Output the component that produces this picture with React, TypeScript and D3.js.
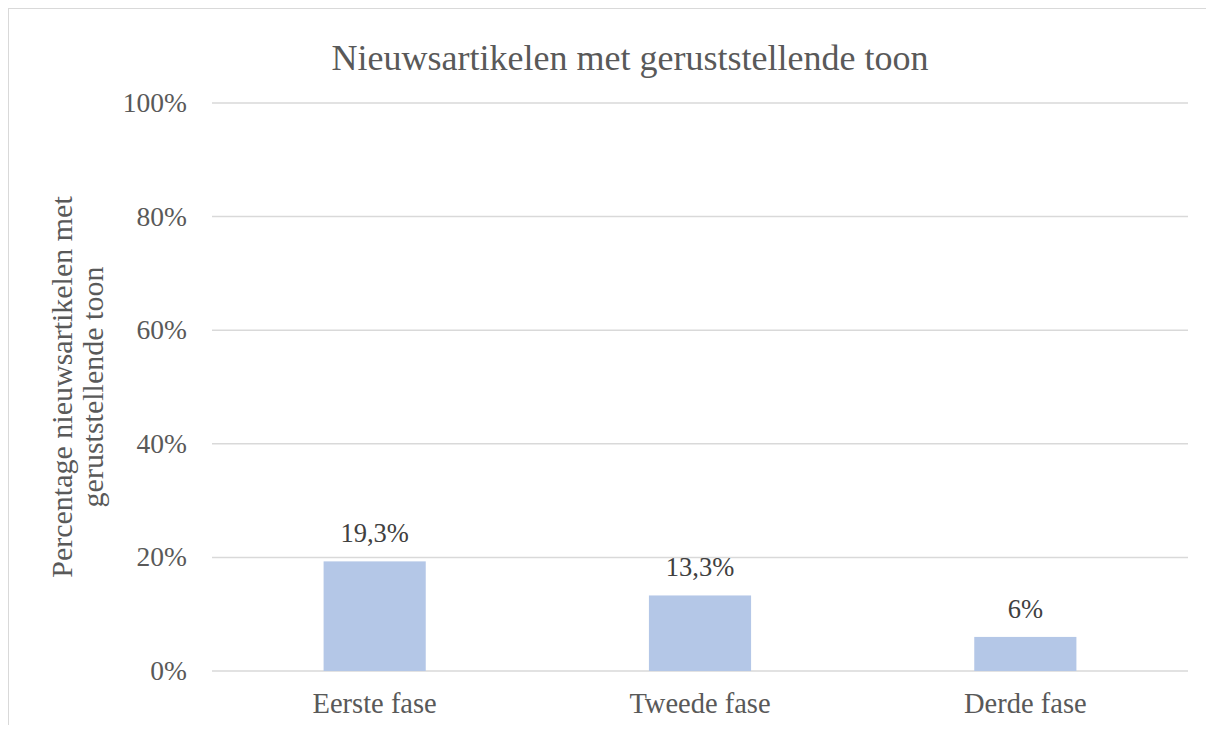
import React from "react";
import * as d3 from "d3";

const categories = ["Eerste fase", "Tweede fase", "Derde fase"];
const values = [19.3, 13.3, 6];
const valueLabels = ["19,3%", "13,3%", "6%"];
const yTicks = [0, 20, 40, 60, 80, 100];

const title = "Nieuwsartikelen met geruststellende toon";
const yTitle = ["Percentage nieuwsartikelen met", "geruststellende toon"];

const W = 1206;
const H = 717;
const font = "Liberation Serif, serif";
const textColor = "#595959";

const App = () => {
	const left = 204, right = 1180, top = 95, bottom = 663;

	const x = d3.scaleBand<string>().domain(categories).range([left, right]).padding(0);
	const y = d3.scaleLinear().domain([0, 100]).range([bottom, top]);
	const barW = x.bandwidth() * 0.314;

	return (
		<svg width={W} height={H} style={{ display: "block", fontFamily: font }}>
			<rect x={0.5} y={0.5} width={1260} height={760} fill="#fff" stroke="#d9d9d9" />
			<text x={622} y={62} textAnchor="middle" fontSize={36} fill={textColor}>
				{title}
			</text>
			{yTicks.map(t => (
				<g key={t}>
					<line x1={left} x2={right} y1={y(t)} y2={y(t)} stroke="#d9d9d9" strokeWidth={1.5} />
					<text x={179} y={y(t) + 9} textAnchor="end" fontSize={27.5} fill={textColor}>
						{t}%
					</text>
				</g>
			))}
			{categories.map((c, i) => {
				const cx = (x(c) as number) + x.bandwidth() / 2;
				return (
					<g key={c}>
						<rect x={cx - barW / 2} y={y(values[i])} width={barW} height={y(0) - y(values[i])} fill="#b4c7e7" />
						<text x={cx} y={y(values[i]) - 19} textAnchor="middle" fontSize={26.5} fill="#404040">
							{valueLabels[i]}
						</text>
						<text x={cx} y={705} textAnchor="middle" fontSize={28.5} fill={textColor}>
							{c}
						</text>
					</g>
				);
			})}
			<g transform={`translate(0, ${379}) rotate(-90)`} fontSize={30} fill={textColor} textAnchor="middle">
				<text x={0} y={64}>{yTitle[0]}</text>
				<text x={0} y={95}>{yTitle[1]}</text>
			</g>
		</svg>
	);
};

export default App;
